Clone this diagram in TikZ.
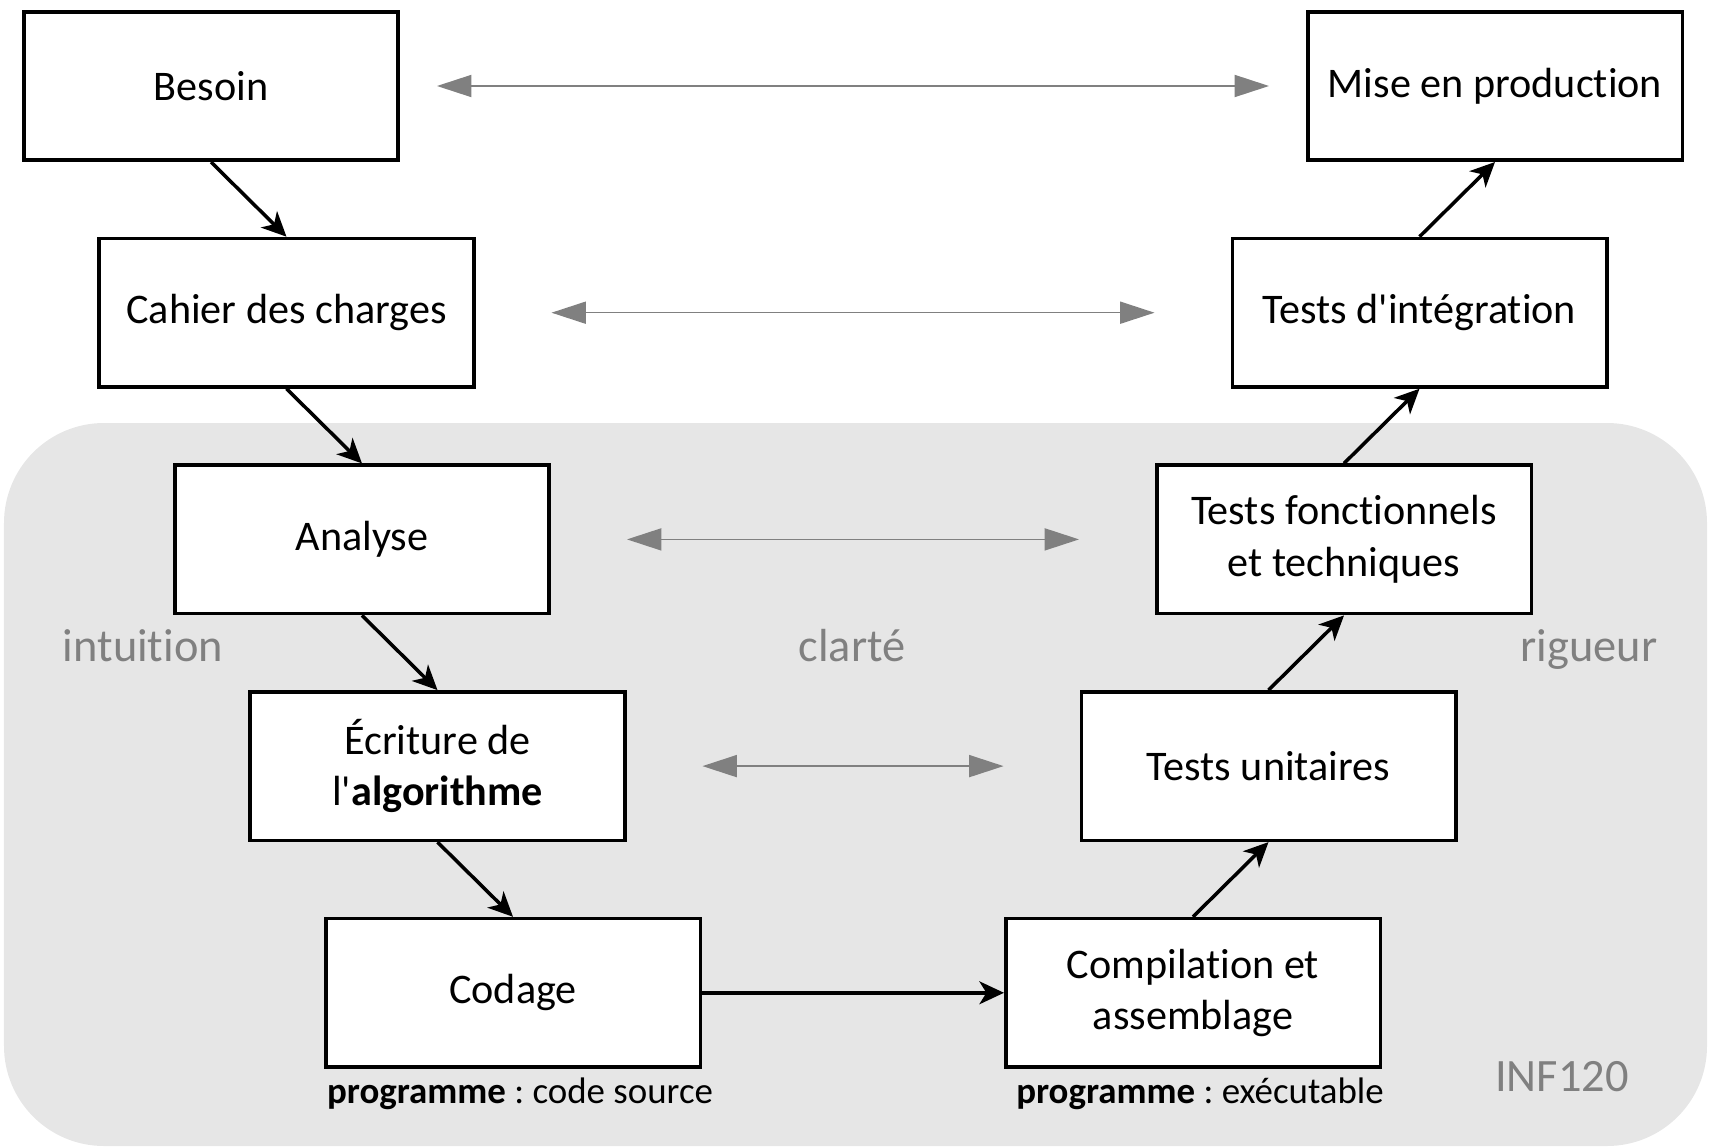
\documentclass[tikz,border=0pt]{standalone}
\usepackage{fontspec}
\setmainfont{Carlito}[Ligatures={TeXOff,NoCommon}]
\frenchspacing
\usepackage{xcolor}
\usepackage{tikz}
\usetikzlibrary{arrows.meta}

\definecolor{fondcycle}{RGB}{230,230,230}
\definecolor{grisclair}{RGB}{128,128,128}

\tikzset{
	etape/.style={draw,line width=1pt,fill=white,align=center,
		minimum width=3.745cm,minimum height=1.485cm,
		font=\fontsize{12}{14.6}\selectfont},
	qualite/.style={anchor=base,text=grisclair,font=\fontsize{13.2}{16}\selectfont},
	legende/.style={anchor=base,font=\fontsize{10.5}{12.5}\selectfont},
}

\begin{document}
\begin{tikzpicture}
		\useasboundingbox (0,0) rectangle (17.09,-11.46);
		\fill[fondcycle,rounded corners=1cm] (0.04,-4.23) rectangle (17.07,-11.46);
		%
		\node[etape] (besoin) at (2.11,-0.86) {Besoin};
		\node[etape] (cahier) at (2.865,-3.127) {Cahier des charges};
		\node[etape] (analyse) at (3.62,-5.394) {Analyse};
		\node[etape] (ecriture) at (4.375,-7.661) {Écriture de\\l'\textbf{algorithme}};
		\node[etape] (codage) at (5.13,-9.928) {Codage};
		\node[etape] (compil) at (11.93,-9.928) {Compilation et\\assemblage};
		\node[etape] (unitaires) at (12.685,-7.661) {Tests unitaires};
		\node[etape] (fonctionnels) at (13.44,-5.394) {Tests fonctionnels\\et techniques};
		\node[etape] (integration) at (14.195,-3.127) {Tests d'intégration};
		\node[etape] (production) at (14.95,-0.86) {Mise en production};
		%
		\node[legende] (source) at (5.2,-11.03) {\textbf{programme} : code source};
		\node[legende] (executable) at (12.0,-11.03) {\textbf{programme} : exécutable};
		%
		\node[qualite] (intuition) at (1.43,-6.61) {intuition};
		\node[qualite] (clarte) at (8.52,-6.61) {clarté};
		\node[qualite] (rigueur) at (15.89,-6.61) {rigueur};
		\node[qualite] (cours) at (15.62,-10.91) {INF120};
		%
		\path[-{Stealth[length=7pt,width=6.5pt,inset=2pt]},line width=1pt]
			(besoin.south) edge (cahier.north)
			(cahier.south) edge (analyse.north)
			(analyse.south) edge (ecriture.north)
			(ecriture.south) edge (codage.north)
			(codage) edge (compil)
			(compil.north) edge (unitaires.south)
			(unitaires.north) edge (fonctionnels.south)
			(fonctionnels.north) edge (integration.south)
			(integration.north) edge (production.south);
		%
		\path[{Triangle[length=9.8pt,width=6.3pt]}-{Triangle[length=9.8pt,width=6.3pt]},
				draw=grisclair,fill=grisclair,line width=0.4pt,shorten <=0.76cm,shorten >=0.76cm]
			(besoin) edge[shorten <=0.37cm,shorten >=0.37cm] (production)
			(cahier) edge (integration)
			(analyse) edge (fonctionnels)
			(ecriture) edge (unitaires);
	\end{tikzpicture}
\end{document}
